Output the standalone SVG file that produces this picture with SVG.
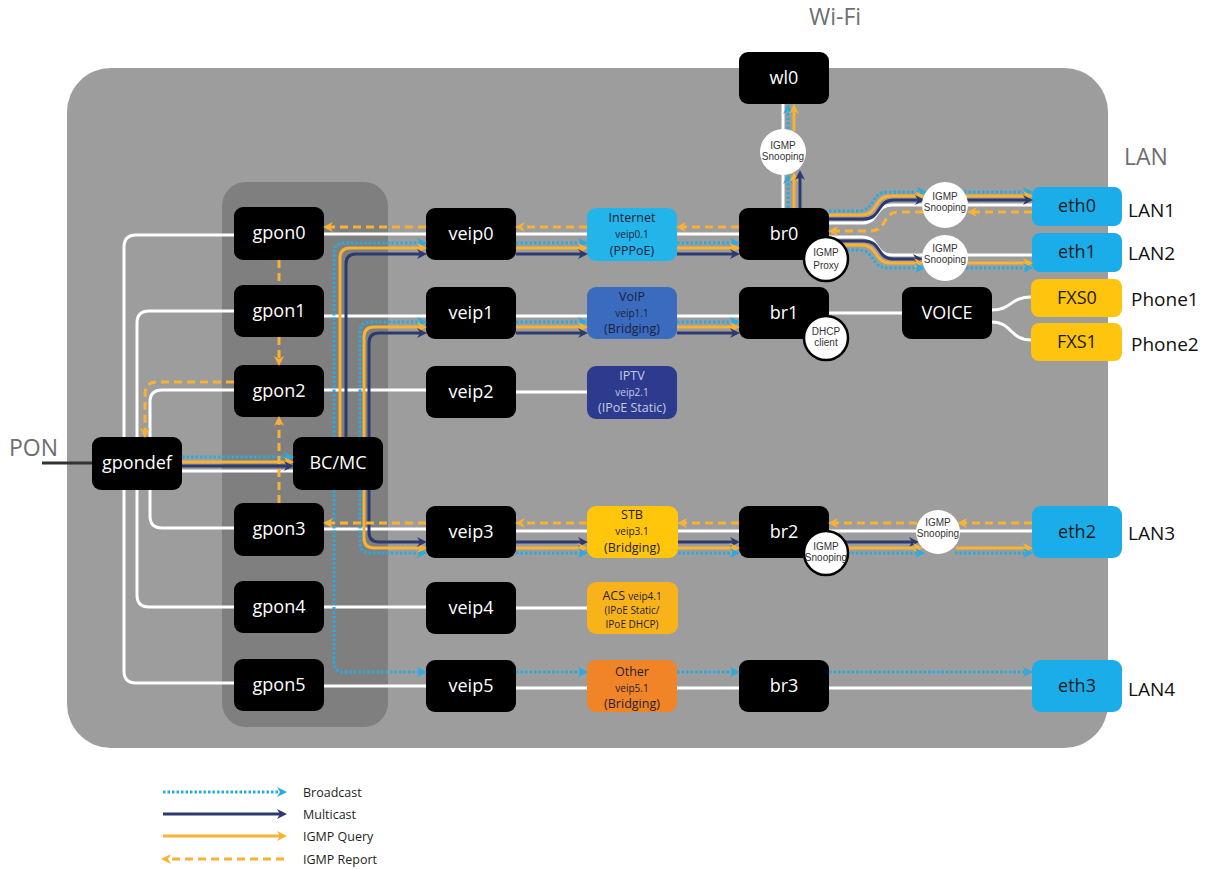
<svg xmlns="http://www.w3.org/2000/svg" width="1208" height="869" viewBox="0 0 1208 869">
<defs>
<marker id="ac" viewBox="0 0 10 10" refX="6" refY="5" markerWidth="11" markerHeight="10" markerUnits="userSpaceOnUse" orient="auto"><path d="M0,0 L10,5 L0,10 L3,5 z" fill="#29abe2"/></marker>
<marker id="an" viewBox="0 0 10 10" refX="6" refY="5" markerWidth="11" markerHeight="10" markerUnits="userSpaceOnUse" orient="auto"><path d="M0,0 L10,5 L0,10 L3,5 z" fill="#2d3a72"/></marker>
<marker id="aq" viewBox="0 0 10 10" refX="6" refY="5" markerWidth="11" markerHeight="10" markerUnits="userSpaceOnUse" orient="auto"><path d="M0,0 L10,5 L0,10 L3,5 z" fill="#f9b233"/></marker>
<style>
.w{stroke:#fff;stroke-width:3;fill:none}
.c{stroke:#29abe2;stroke-width:3;stroke-dasharray:2.5 2;fill:none;marker-end:url(#ac)}
.n{stroke:#2d3a72;stroke-width:3;fill:none;marker-end:url(#an)}
.q{stroke:#f9b233;stroke-width:3;fill:none;marker-end:url(#aq)}
.r{stroke:#f9b233;stroke-width:3;stroke-dasharray:8 5;fill:none;marker-end:url(#aq)}
.r0{stroke:#f9b233;stroke-width:3;stroke-dasharray:8 5;fill:none}
.nd{fill:#000}
.nt{fill:#fff;font-family:"Open Sans","Liberation Sans",sans-serif;font-size:18px;text-anchor:middle}
.dt{fill:#1b1b1b;font-family:"Open Sans","Liberation Sans",sans-serif;font-size:18px;text-anchor:middle}
.s1{font-family:"Open Sans","Liberation Sans",sans-serif;font-size:12.5px;text-anchor:middle}
.s2{font-family:"Open Sans","Liberation Sans",sans-serif;font-size:10px;text-anchor:middle}
.ci{fill:#fff}
.cb{fill:#fff;stroke:#000;stroke-width:2.5}
.ct{fill:#333;font-family:"Liberation Sans",Arial,sans-serif;font-size:10px;text-anchor:middle}
.lb{fill:#111;font-family:"Open Sans","Liberation Sans",sans-serif;font-size:19px}
.gl{fill:#6d6e70;font-family:"Open Sans","Liberation Sans",sans-serif;font-size:23px}
.lg{fill:#231f20;font-family:"Open Sans","Liberation Sans",sans-serif;font-size:12.5px}
</style>
</defs>
<rect width="1208" height="869" fill="#fff"/>
<g id="panels">
<rect x="67" y="68" width="1041" height="680" rx="44" fill="#9c9d9c"/>
<rect x="222" y="182" width="166" height="545" rx="24" fill="#7f7f7f"/>
</g>
<g id="n-gpon0"><rect class="nd" x="234" y="207" width="90" height="53" rx="9"/><text class="nt" x="279" y="239">gpon0</text></g>
<g id="n-gpon1"><rect class="nd" x="234" y="285" width="90" height="52" rx="9"/><text class="nt" x="279" y="317">gpon1</text></g>
<g id="n-gpon2"><rect class="nd" x="234" y="365" width="90" height="52" rx="9"/><text class="nt" x="279" y="397">gpon2</text></g>
<g id="n-gpon3"><rect class="nd" x="234" y="503" width="90" height="53" rx="9"/><text class="nt" x="279" y="535">gpon3</text></g>
<g id="n-gpon4"><rect class="nd" x="234" y="581" width="90" height="52" rx="9"/><text class="nt" x="279" y="613">gpon4</text></g>
<g id="n-gpon5"><rect class="nd" x="234" y="659" width="90" height="52" rx="9"/><text class="nt" x="279" y="691">gpon5</text></g>
<g id="n-gpondef"><rect class="nd" x="92" y="437" width="90" height="53" rx="9"/><text class="nt" x="137" y="469">gpondef</text></g>
<g id="n-bcmc"><rect class="nd" x="293" y="437" width="90" height="53" rx="9"/><text class="nt" x="338" y="469">BC/MC</text></g>
<g id="n-veip0"><rect class="nd" x="426" y="208" width="90" height="52" rx="9"/><text class="nt" x="471" y="240">veip0</text></g>
<g id="n-veip1"><rect class="nd" x="426" y="287" width="90" height="52" rx="9"/><text class="nt" x="471" y="319">veip1</text></g>
<g id="n-veip2"><rect class="nd" x="426" y="366" width="90" height="52" rx="9"/><text class="nt" x="471" y="398">veip2</text></g>
<g id="n-veip3"><rect class="nd" x="426" y="506" width="90" height="52" rx="9"/><text class="nt" x="471" y="538">veip3</text></g>
<g id="n-veip4"><rect class="nd" x="426" y="582" width="90" height="52" rx="9"/><text class="nt" x="471" y="614">veip4</text></g>
<g id="n-veip5"><rect class="nd" x="426" y="660" width="90" height="52" rx="9"/><text class="nt" x="471" y="692">veip5</text></g>
<g id="n-internet"><rect x="587" y="208" width="90" height="53" rx="9" fill="#23b4e9"/><text class="s1" x="632" y="222" fill="#1e2235">Internet</text><text class="s2" x="632" y="238" fill="#1e2235">veip0.1</text><text class="s1" x="632" y="255" fill="#1e2235">(PPPoE)</text></g>
<g id="n-voip"><rect x="587" y="287" width="90" height="52" rx="9" fill="#3b6bbf"/><text class="s1" x="632" y="301" fill="#1a1f3a">VoIP</text><text class="s2" x="632" y="317" fill="#1a1f3a">veip1.1</text><text class="s1" x="632" y="333" fill="#1a1f3a">(Bridging)</text></g>
<g id="n-iptv"><rect x="587" y="366" width="90" height="53" rx="9" fill="#2d3b8e"/><text class="s1" x="632" y="380" fill="#c5cae6">IPTV</text><text class="s2" x="632" y="396" fill="#c5cae6">veip2.1</text><text class="s1" x="632" y="412" fill="#c5cae6">(IPoE Static)</text></g>
<g id="n-stb"><rect x="587" y="506" width="91" height="52" rx="9" fill="#ffc60b"/><text class="s1" x="632" y="519" fill="#1e2235">STB</text><text class="s2" x="632" y="535" fill="#1e2235">veip3.1</text><text class="s1" x="632" y="552" fill="#1e2235">(Bridging)</text></g>
<g id="n-acs"><rect x="587" y="582" width="91" height="52" rx="9" fill="#f8b31a"/><text class="s1" x="632" y="600" fill="#1e2235">ACS <tspan font-size="10">veip4.1</tspan></text><text class="s2" x="632" y="614" fill="#1e2235">(IPoE Static/</text><text class="s2" x="632" y="628" fill="#1e2235">IPoE DHCP)</text></g>
<g id="n-other"><rect x="587" y="660" width="90" height="52" rx="9" fill="#f08426"/><text class="s1" x="632" y="676" fill="#1e2235">Other</text><text class="s2" x="632" y="692" fill="#1e2235">veip5.1</text><text class="s1" x="632" y="708" fill="#1e2235">(Bridging)</text></g>
<g id="n-wl0"><rect class="nd" x="739" y="52" width="90" height="52" rx="9"/><text class="nt" x="784" y="84">wl0</text></g>
<g id="n-br0"><rect class="nd" x="739" y="208" width="90" height="52" rx="9"/><text class="nt" x="784" y="240">br0</text></g>
<g id="n-br1"><rect class="nd" x="739" y="287" width="90" height="52" rx="9"/><text class="nt" x="784" y="319">br1</text></g>
<g id="n-br2"><rect class="nd" x="739" y="506" width="90" height="52" rx="9"/><text class="nt" x="784" y="538">br2</text></g>
<g id="n-br3"><rect class="nd" x="739" y="660" width="90" height="52" rx="9"/><text class="nt" x="784" y="692">br3</text></g>
<g id="n-voice"><rect class="nd" x="902" y="287" width="90" height="52" rx="9"/><text class="nt" x="947" y="319">VOICE</text></g>
<g id="n-eth0"><rect x="1032" y="187" width="90" height="39" rx="8" fill="#1badea"/><text class="dt" x="1077" y="212">eth0</text></g>
<g id="n-eth1"><rect x="1032" y="233" width="90" height="39" rx="8" fill="#1badea"/><text class="dt" x="1077" y="258">eth1</text></g>
<g id="n-fxs0"><rect x="1031" y="279" width="91" height="38" rx="8" fill="#ffc40d"/><text class="dt" x="1077" y="304">FXS0</text></g>
<g id="n-fxs1"><rect x="1031" y="323" width="91" height="38" rx="8" fill="#ffc40d"/><text class="dt" x="1077" y="348">FXS1</text></g>
<g id="n-eth2"><rect x="1032" y="506" width="90" height="52" rx="9" fill="#1badea"/><text class="dt" x="1077" y="538">eth2</text></g>
<g id="n-eth3"><rect x="1032" y="660" width="90" height="52" rx="9" fill="#1badea"/><text class="dt" x="1077" y="692">eth3</text></g>
<g id="connectors">
<path d="M42 463 H92" stroke="#333" stroke-width="3" fill="none"/>
<path class="w" d="M234 235 H136 Q124 235 124 247 V437"/>
<path class="w" d="M124 490 V671 Q124 683 136 683 H234"/>
<path class="w" d="M234 311 H149 Q137 311 137 323 V437"/>
<path class="w" d="M137 490 V595 Q137 607 149 607 H234"/>
<path class="w" d="M234 390 H162 Q150 390 150 402 V437"/>
<path class="w" d="M150 490 V516 Q150 528 162 528 H234"/>
<path class="w" d="M182 471 H293"/>
<path class="w" d="M324 234 H426 M324 316 H426 M324 390 H426 M324 529 H426 M324 607 H426 M324 686 H426"/>
<path class="w" d="M516 234 H587 M516 316 H587 M516 392 H587 M516 531 H587 M516 608 H587 M516 688 H587"/>
<path class="w" d="M677 234 H739 M677 316 H739 M678 531 H739 M677 688 H739"/>
<path class="w" d="M829 313 H902"/>
<path class="w" d="M992 310 C1012 310 1010 297 1031 297 M992 322 C1012 322 1010 340 1031 340"/>
<path class="w" d="M829 531 H1032 M829 688 H1032"/>
<path class="w" d="M783 208 V104"/>
<path class="w" d="M829 223 L862 223 C880 223 874 205 892 205 L1032 205"/>
<path class="w" d="M829 237 L862 237 C880 237 874 255 892 255 L1032 255"/>
<path class="c" d="M182 457 H290"/>
<path class="q" d="M182 462 H290"/>
<path class="n" d="M182 466 H290"/>
<path class="c" d="M334 437 V253 Q334 243 344 243 H423"/>
<path class="q" d="M340 437 V258 Q340 248 350 248 H423"/>
<path class="n" d="M346 437 V264 Q346 254 356 254 H423"/>
<path class="c" d="M360 437 V332 Q360 322 370 322 H423"/>
<path class="q" d="M364 437 V337 Q364 327 374 327 H423"/>
<path class="n" d="M369 437 V343 Q369 333 379 333 H423"/>
<path class="c" d="M334 490 V662 Q334 672 344 672 H423"/>
<path class="c" d="M360 490 V543 Q360 553 370 553 H423"/>
<path class="q" d="M364 490 V538 Q364 548 374 548 H423"/>
<path class="n" d="M369 490 V532 Q369 542 379 542 H423"/>
<path class="c" d="M516 243 H584"/><path class="q" d="M516 248 H584"/><path class="n" d="M516 254 H584"/>
<path class="c" d="M677 243 H736"/><path class="q" d="M677 248 H736"/><path class="n" d="M677 254 H736"/>
<path class="c" d="M516 322 H584"/><path class="q" d="M516 327 H584"/><path class="n" d="M516 333 H584"/>
<path class="c" d="M677 322 H736"/><path class="q" d="M677 327 H736"/><path class="n" d="M677 333 H736"/>
<path class="n" d="M516 542 H584"/><path class="q" d="M516 548 H584"/><path class="c" d="M516 553 H584"/>
<path class="n" d="M678 542 H736"/><path class="q" d="M678 548 H736"/><path class="c" d="M678 553 H736"/>
<path class="n" d="M829 542 H915"/><path class="q" d="M829 548 H919"/><path class="c" d="M829 553 H921"/>
<path class="q" d="M956 548 H1029"/><path class="c" d="M955 553 H1029"/>
<path class="c" d="M516 672 H584"/><path class="c" d="M677 672 H736"/><path class="c" d="M829 672 H1029"/>
<path class="c" d="M788 208 V178"/><path class="c" d="M788 129 V108"/>
<path class="q" d="M794 208 V176"/><path class="q" d="M794 131 V108"/>
<path class="n" d="M800 208 V174"/>
<path class="c" d="M829 211 L858 211 C876 211 870 192 888 192 L923 192"/>
<path class="q" d="M829 215 L861 215 C879 215 873 196 891 196 L921 196"/>
<path class="n" d="M829 219 L864 219 C882 219 876 200 894 200 L921 200"/>
<path class="c" d="M964 192 H1029"/><path class="q" d="M966 196 H1029"/><path class="n" d="M966 200 H1029"/>
<path class="n" d="M829 241 L864 241 C882 241 876 259 894 259 L919 259"/>
<path class="q" d="M829 245 L861 245 C879 245 873 263 891 263 L920 263"/>
<path class="c" d="M829 250 L858 250 C876 250 870 268 888 268 L921 268"/>
<path class="q" d="M967 263 H1029"/><path class="c" d="M966 268 H1029"/>
<path class="r" d="M426 227 H327"/>
<path class="r" d="M587 227 H519"/>
<path class="r" d="M739 227 H680"/>
<path class="r" d="M1032 212 H971"/>
<path class="r" d="M923 212 L898 212 C882 212 888 231 870 231 L832 231"/>
<path class="r0" d="M279 260 V285"/>
<path class="r" d="M279 337 V362"/>
<path class="r" d="M279 503 V420"/>
<path class="r" d="M234 382 H157 Q145 382 145 394 V434"/>
<path class="r" d="M426 523 H327"/>
<path class="r" d="M587 523 H519"/>
<path class="r" d="M739 523 H681"/>
<path class="r" d="M1032 523 H961"/>
<path class="r" d="M917 523 H832"/>
</g>
<g id="n-snoop-wl0"><circle class="ci" cx="783" cy="152" r="23"/><text class="ct" x="783" y="149">IGMP</text><text class="ct" x="783" y="160">Snooping</text></g>
<g id="n-snoop-eth0"><circle class="ci" cx="945" cy="205" r="23"/><text class="ct" x="945" y="200">IGMP</text><text class="ct" x="945" y="211">Snooping</text></g>
<g id="n-snoop-eth1"><circle class="ci" cx="945" cy="258" r="23"/><text class="ct" x="945" y="252">IGMP</text><text class="ct" x="945" y="263">Snooping</text></g>
<g id="n-snoop-eth2"><circle class="ci" cx="938" cy="532" r="22"/><text class="ct" x="938" y="526">IGMP</text><text class="ct" x="938" y="537">Snooping</text></g>
<g id="n-proxy"><circle class="cb" cx="826" cy="259" r="22"/><text class="ct" x="826" y="256" font-size="11">IGMP</text><text class="ct" x="826" y="269" font-size="11">Proxy</text></g>
<g id="n-dhcp"><circle class="cb" cx="826" cy="338" r="22"/><text class="ct" x="826" y="335">DHCP</text><text class="ct" x="826" y="346">client</text></g>
<g id="n-snoop-br2"><circle class="cb" cx="826" cy="553" r="22"/><text class="ct" x="826" y="550">IGMP</text><text class="ct" x="826" y="561">Snooping</text></g>
<g id="labels">
<text class="gl" x="835" y="25" text-anchor="middle">Wi-Fi</text>
<text class="gl" x="1124" y="165" font-size="22">LAN</text>
<text class="gl" x="9" y="456">PON</text>
<text class="lb" x="1128" y="217">LAN1</text>
<text class="lb" x="1128" y="260">LAN2</text>
<text class="lb" x="1131" y="306">Phone1</text>
<text class="lb" x="1131" y="351">Phone2</text>
<text class="lb" x="1128" y="540">LAN3</text>
<text class="lb" x="1128" y="696">LAN4</text>
</g>
<g id="legend">
<path class="c" d="M163 792 H283"/>
<path class="n" d="M163 814 H283"/>
<path class="q" d="M163 836 H283"/>
<path class="r" d="M284 859 H165"/>
<text class="lg" x="303" y="797">Broadcast</text>
<text class="lg" x="303" y="819">Multicast</text>
<text class="lg" x="303" y="841">IGMP Query</text>
<text class="lg" x="303" y="864">IGMP Report</text>
</g>
</svg>
